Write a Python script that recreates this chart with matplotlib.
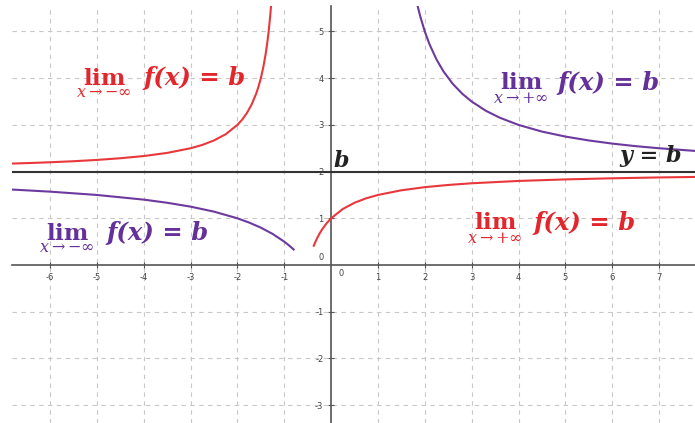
import matplotlib
matplotlib.use('Agg')
import matplotlib.pyplot as plt

plt.rcParams['axes.unicode_minus'] = False

# ---- data ----
b_value = 2.0

red_left_x = [-6.85, -6.4, -6.0, -5.5, -5.0, -4.5, -4.0, -3.5, -3.0, -2.75, -2.5, -2.25, -2.0,
              -1.9, -1.8, -1.7, -1.6, -1.55, -1.5, -1.45, -1.4, -1.36, -1.33, -1.30, -1.28, -1.27]
red_left_y = [2.171, 2.185, 2.2, 2.222, 2.25, 2.286, 2.333, 2.4, 2.5, 2.571, 2.667, 2.8, 3.0,
              3.111, 3.25, 3.429, 3.667, 3.818, 4.0, 4.222, 4.5, 4.778, 5.03, 5.333, 5.571, 5.704]

red_right_x = [-0.37, -0.33, -0.3, -0.25, -0.2, -0.1, 0.0, 0.25, 0.5, 0.75, 1.0, 1.5, 2.0, 2.5,
               3.0, 4.0, 5.0, 6.0, 7.0, 7.8]
red_right_y = [0.413, 0.507, 0.571, 0.667, 0.75, 0.889, 1.0, 1.2, 1.333, 1.429, 1.5, 1.6, 1.667,
               1.714, 1.75, 1.8, 1.833, 1.857, 1.875, 1.886]

purple_left_x = [-6.85, -6.0, -5.0, -4.0, -3.5, -3.0, -2.5, -2.0, -1.75, -1.5, -1.25, -1.0, -0.9, -0.8]
purple_left_y = [1.618, 1.571, 1.5, 1.4, 1.333, 1.25, 1.143, 1.0, 0.909, 0.8, 0.667, 0.5, 0.421, 0.333]

purple_right_x = [1.83, 1.9, 2.0, 2.1, 2.25, 2.4, 2.6, 2.8, 3.0, 3.3, 3.6, 4.0, 4.5, 5.0, 5.5,
                  6.0, 6.5, 7.0, 7.8]
purple_right_y = [5.614, 5.333, 5.0, 4.727, 4.4, 4.143, 3.875, 3.667, 3.5, 3.304, 3.154, 3.0,
                  2.857, 2.75, 2.667, 2.6, 2.545, 2.5, 2.441]

x_ticks = [-6, -5, -4, -3, -2, -1, 1, 2, 3, 4, 5, 6, 7]
x_tick_labels = ['-6', '-5', '-4', '-3', '-2', '-1', '1', '2', '3', '4', '5', '6', '7']
y_ticks = [-3, -2, -1, 1, 2, 3, 4, 5]
y_tick_labels = ['-3', '-2', '-1', '1', '2', '3', '4', '5']

lim_minus = r'$\underset{x{\rightarrow}{-}\infty}{\mathbf{lim}}$'
lim_plus = r'$\underset{x{\rightarrow}{+}\infty}{\mathbf{lim}}$'
func_text = 'f(x) = b'

RED = '#e8383c'
PURPLE = '#6c3a9e'
TXT_RED = '#e3262c'
TXT_PURPLE = '#64309a'

fig = plt.figure(figsize=(6.95, 4.23), dpi=100)
ax = fig.add_axes([12 / 695, 0, 1 - 12 / 695, 1 - 6 / 423])
ax.set_xlim(-6.811, 7.767)
ax.set_ylim(-3.383, 5.546)

for s in ['top', 'right']:
    ax.spines[s].set_visible(False)
ax.spines['left'].set_position(('data', 0))
ax.spines['bottom'].set_position(('data', 0))
for s in ['left', 'bottom']:
    ax.spines[s].set_color('#555555')
    ax.spines[s].set_linewidth(1.2)

ax.set_xticks(x_ticks)
ax.set_xticklabels(x_tick_labels)
ax.set_yticks(y_ticks)
ax.set_yticklabels(y_tick_labels)
ax.tick_params(direction='inout', length=5, width=0.8, color='#555555',
               labelsize=6, labelcolor='#444444', pad=3)
ax.grid(True, color='#c8c8c8', linestyle=(0, (4, 4)), linewidth=0.8)
ax.set_axisbelow(True)

ax.text(0.16, -0.09, '0', fontsize=6, color='#444444', ha='left', va='top')
ax.text(-0.15, 0.06, '0', fontsize=6, color='#444444', ha='right', va='bottom')

ax.axhline(b_value, color='#333333', lw=1.5, zorder=3)

ax.plot(red_left_x, red_left_y, color=RED, lw=1.5, zorder=4)
ax.plot(red_right_x, red_right_y, color=RED, lw=1.5, zorder=4)
ax.plot(purple_left_x, purple_left_y, color=PURPLE, lw=1.5, zorder=4)
ax.plot(purple_right_x, purple_right_y, color=PURPLE, lw=1.5, zorder=4)

FAM = 'DejaVu Serif'


def lim_label(x_lim, y_base, x_f, color, lim_str):
    ax.text(x_lim, y_base, lim_str, ha='center', va='baseline', fontsize=16.5,
            math_fontfamily='dejavuserif', color=color, zorder=5)
    ax.text(x_f, y_base, func_text, ha='left', va='baseline', fontsize=17.5,
            fontweight='bold', style='italic', family=FAM, color=color, zorder=5)


lim_label(-4.85, 3.85, -4.01, TXT_RED, lim_minus)
lim_label(4.04, 3.75, 4.82, TXT_PURPLE, lim_plus)
lim_label(-5.64, 0.535, -4.80, TXT_PURPLE, lim_minus)
lim_label(3.50, 0.75, 4.31, TXT_RED, lim_plus)

ax.text(0.04, 2.09, 'b', ha='left', va='baseline', fontsize=16, fontweight='bold',
        style='italic', family=FAM, color='#222222', zorder=5)
ax.text(6.83, 2.2, 'y = b', ha='center', va='baseline', fontsize=16, fontweight='bold',
        style='italic', family=FAM, color='#222222', zorder=5)

fig.savefig('out.png', dpi=100, facecolor='white')
